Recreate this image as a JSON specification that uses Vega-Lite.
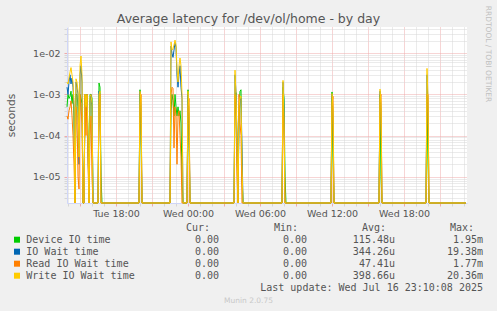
{
  "$schema": "https://vega.github.io/schema/vega-lite/v6.json",
  "width": 400,
  "height": 176,
  "autosize": {"type": "none"},
  "padding": {"left": 67, "top": 27, "right": 30, "bottom": 108},
  "background": "#f0f0f0",
  "config": {"view": {"fill": "#ffffff", "stroke": null}, "font": "DejaVu Sans"},
  "title": {"text": "Average latency for /dev/ol/home - by day", "fontSize": 12.5, "fontWeight": "normal", "color": "#555555", "anchor": "middle", "frame": "group", "dx": -18.5, "offset": -30, "baseline": "alphabetic"},
  "datasets": {
    "latency": [
      {"t": "2025-07-15T13:55", "Device IO time": 0.0005, "IO Wait time": 0.0015, "Read IO Wait time": 0.0003, "Write IO Wait time": 0.002},
      {"t": "2025-07-15T14:00", "Device IO time": 0.001, "IO Wait time": 0.001, "Read IO Wait time": 0.00025, "Write IO Wait time": 0.0018},
      {"t": "2025-07-15T14:05", "Device IO time": 0.0008, "IO Wait time": 0.002, "Read IO Wait time": 0.0004, "Write IO Wait time": 0.0025},
      {"t": "2025-07-15T14:10", "Device IO time": 0.0009, "IO Wait time": 0.003, "Read IO Wait time": 0.0005, "Write IO Wait time": 0.0035},
      {"t": "2025-07-15T14:15", "Device IO time": 0.0012, "IO Wait time": 0.0018, "Read IO Wait time": 0.0007, "Write IO Wait time": 0.0045},
      {"t": "2025-07-15T14:20", "Device IO time": 0.0006, "IO Wait time": 0.0025, "Read IO Wait time": 0.0003, "Write IO Wait time": 0.003},
      {"t": "2025-07-15T14:25", "Device IO time": 0.001, "IO Wait time": 0.0015, "Read IO Wait time": 0.0001, "Write IO Wait time": 0.002},
      {"t": "2025-07-15T14:30", "Device IO time": 0.0003, "IO Wait time": 0.0005, "Read IO Wait time": 0.00002, "Write IO Wait time": 0.0006},
      {"t": "2025-07-15T14:35", "Device IO time": 0, "IO Wait time": 0, "Read IO Wait time": 0, "Write IO Wait time": 0},
      {"t": "2025-07-15T14:40", "Device IO time": 0.001, "IO Wait time": 0.002, "Read IO Wait time": 0.0005, "Write IO Wait time": 0.0024},
      {"t": "2025-07-15T14:45", "Device IO time": 0.001, "IO Wait time": 0.0015, "Read IO Wait time": 0.0003, "Write IO Wait time": 0.002},
      {"t": "2025-07-15T14:50", "Device IO time": 0.0005, "IO Wait time": 0.001, "Read IO Wait time": 0.00001, "Write IO Wait time": 0.0012},
      {"t": "2025-07-15T14:55", "Device IO time": 0.00005, "IO Wait time": 0.00002, "Read IO Wait time": 0.000005, "Write IO Wait time": 0.00003},
      {"t": "2025-07-15T15:00", "Device IO time": 0.001, "IO Wait time": 0.003, "Read IO Wait time": 0.001, "Write IO Wait time": 0.005},
      {"t": "2025-07-15T15:05", "Device IO time": 0.0008, "IO Wait time": 0.005, "Read IO Wait time": 0.0005, "Write IO Wait time": 0.0086},
      {"t": "2025-07-15T15:10", "Device IO time": 0.0006, "IO Wait time": 0.002, "Read IO Wait time": 0.0002, "Write IO Wait time": 0.003},
      {"t": "2025-07-15T15:15", "Device IO time": 0, "IO Wait time": 0, "Read IO Wait time": 0, "Write IO Wait time": 0},
      {"t": "2025-07-15T15:20", "Device IO time": 0, "IO Wait time": 0, "Read IO Wait time": 0, "Write IO Wait time": 0},
      {"t": "2025-07-15T15:25", "Device IO time": 0.001, "IO Wait time": 0.0008, "Read IO Wait time": 0.001, "Write IO Wait time": 0.001},
      {"t": "2025-07-15T15:30", "Device IO time": 0.0005, "IO Wait time": 0.0003, "Read IO Wait time": 0.0001, "Write IO Wait time": 0.0005},
      {"t": "2025-07-15T15:35", "Device IO time": 0.001, "IO Wait time": 0.001, "Read IO Wait time": 0.001, "Write IO Wait time": 0.001},
      {"t": "2025-07-15T15:40", "Device IO time": 0.0001, "IO Wait time": 0.00005, "Read IO Wait time": 0.00002, "Write IO Wait time": 0.0001},
      {"t": "2025-07-15T15:45", "Device IO time": 0, "IO Wait time": 0, "Read IO Wait time": 0, "Write IO Wait time": 0},
      {"t": "2025-07-15T15:50", "Device IO time": 0.001, "IO Wait time": 0.0007, "Read IO Wait time": 0.0001, "Write IO Wait time": 0.0009},
      {"t": "2025-07-15T15:55", "Device IO time": 0.001, "IO Wait time": 0.001, "Read IO Wait time": 0.0003, "Write IO Wait time": 0.001},
      {"t": "2025-07-15T16:00", "Device IO time": 0.0008, "IO Wait time": 0.0005, "Read IO Wait time": 0.00001, "Write IO Wait time": 0.0006},
      {"t": "2025-07-15T16:05", "Device IO time": 0, "IO Wait time": 0, "Read IO Wait time": 0, "Write IO Wait time": 0},
      {"t": "2025-07-15T16:30", "Device IO time": 0, "IO Wait time": 0, "Read IO Wait time": 0, "Write IO Wait time": 0},
      {"t": "2025-07-15T16:35", "Device IO time": 0.0019, "IO Wait time": 0.0012, "Read IO Wait time": 0.0005, "Write IO Wait time": 0.001},
      {"t": "2025-07-15T16:40", "Device IO time": 0.0015, "IO Wait time": 0.001, "Read IO Wait time": 0.001, "Write IO Wait time": 0.0012},
      {"t": "2025-07-15T16:45", "Device IO time": 0.00001, "IO Wait time": 0, "Read IO Wait time": 0, "Write IO Wait time": 0},
      {"t": "2025-07-15T16:50", "Device IO time": 0, "IO Wait time": 0, "Read IO Wait time": 0, "Write IO Wait time": 0},
      {"t": "2025-07-15T19:55", "Device IO time": 0, "IO Wait time": 0, "Read IO Wait time": 0, "Write IO Wait time": 0},
      {"t": "2025-07-15T20:00", "Device IO time": 0.0013, "IO Wait time": 0.0012, "Read IO Wait time": 0.0005, "Write IO Wait time": 0.0012},
      {"t": "2025-07-15T20:05", "Device IO time": 0.0001, "IO Wait time": 0.0005, "Read IO Wait time": 0.001, "Write IO Wait time": 0.0008},
      {"t": "2025-07-15T20:10", "Device IO time": 0, "IO Wait time": 0, "Read IO Wait time": 0, "Write IO Wait time": 0},
      {"t": "2025-07-15T22:30", "Device IO time": 0, "IO Wait time": 0, "Read IO Wait time": 0, "Write IO Wait time": 0},
      {"t": "2025-07-15T22:35", "Device IO time": 0.0004, "IO Wait time": 0.015, "Read IO Wait time": 0.001, "Write IO Wait time": 0.019},
      {"t": "2025-07-15T22:40", "Device IO time": 0.001, "IO Wait time": 0.01, "Read IO Wait time": 0.0015, "Write IO Wait time": 0.012},
      {"t": "2025-07-15T22:45", "Device IO time": 0.0007, "IO Wait time": 0.008, "Read IO Wait time": 0.0014, "Write IO Wait time": 0.013},
      {"t": "2025-07-15T22:50", "Device IO time": 0.0003, "IO Wait time": 0.012, "Read IO Wait time": 0.00005, "Write IO Wait time": 0.016},
      {"t": "2025-07-15T22:55", "Device IO time": 0.001, "IO Wait time": 0.018, "Read IO Wait time": 0.0005, "Write IO Wait time": 0.021},
      {"t": "2025-07-15T23:00", "Device IO time": 0.0005, "IO Wait time": 0.014, "Read IO Wait time": 0.0003, "Write IO Wait time": 0.016},
      {"t": "2025-07-15T23:05", "Device IO time": 0.0003, "IO Wait time": 0.003, "Read IO Wait time": 0.00002, "Write IO Wait time": 0.004},
      {"t": "2025-07-15T23:10", "Device IO time": 0.0005, "IO Wait time": 0.0015, "Read IO Wait time": 0.0003, "Write IO Wait time": 0.002},
      {"t": "2025-07-15T23:15", "Device IO time": 0.0003, "IO Wait time": 0.003, "Read IO Wait time": 0.0004, "Write IO Wait time": 0.005},
      {"t": "2025-07-15T23:20", "Device IO time": 0.0004, "IO Wait time": 0.005, "Read IO Wait time": 0.0001, "Write IO Wait time": 0.0077},
      {"t": "2025-07-15T23:25", "Device IO time": 0.0002, "IO Wait time": 0.0015, "Read IO Wait time": 0.00003, "Write IO Wait time": 0.005},
      {"t": "2025-07-15T23:30", "Device IO time": 0.00001, "IO Wait time": 0.0008, "Read IO Wait time": 0, "Write IO Wait time": 0.001},
      {"t": "2025-07-15T23:35", "Device IO time": 0, "IO Wait time": 0, "Read IO Wait time": 0, "Write IO Wait time": 0},
      {"t": "2025-07-15T23:55", "Device IO time": 0, "IO Wait time": 0, "Read IO Wait time": 0, "Write IO Wait time": 0},
      {"t": "2025-07-16T00:00", "Device IO time": 0.0013, "IO Wait time": 0.001, "Read IO Wait time": 0.0005, "Write IO Wait time": 0.0012},
      {"t": "2025-07-16T00:05", "Device IO time": 0.0001, "IO Wait time": 0.0003, "Read IO Wait time": 0.0008, "Write IO Wait time": 0.0005},
      {"t": "2025-07-16T00:10", "Device IO time": 0, "IO Wait time": 0, "Read IO Wait time": 0, "Write IO Wait time": 0},
      {"t": "2025-07-16T03:50", "Device IO time": 0, "IO Wait time": 0, "Read IO Wait time": 0, "Write IO Wait time": 0},
      {"t": "2025-07-16T03:55", "Device IO time": 0.0008, "IO Wait time": 0.003, "Read IO Wait time": 0.001, "Write IO Wait time": 0.0039},
      {"t": "2025-07-16T04:00", "Device IO time": 0.0011, "IO Wait time": 0.001, "Read IO Wait time": 0.0005, "Write IO Wait time": 0.001},
      {"t": "2025-07-16T04:05", "Device IO time": 0.00005, "IO Wait time": 0.0001, "Read IO Wait time": 0.00001, "Write IO Wait time": 0.00008},
      {"t": "2025-07-16T04:10", "Device IO time": 0, "IO Wait time": 0, "Read IO Wait time": 0, "Write IO Wait time": 0},
      {"t": "2025-07-16T04:15", "Device IO time": 0.0005, "IO Wait time": 0.0003, "Read IO Wait time": 0.001, "Write IO Wait time": 0.0005},
      {"t": "2025-07-16T04:20", "Device IO time": 0.0012, "IO Wait time": 0.0007, "Read IO Wait time": 0.0002, "Write IO Wait time": 0.00088},
      {"t": "2025-07-16T04:25", "Device IO time": 0.0013, "IO Wait time": 0.0008, "Read IO Wait time": 0.0001, "Write IO Wait time": 0.0009},
      {"t": "2025-07-16T04:30", "Device IO time": 0.00001, "IO Wait time": 0.00005, "Read IO Wait time": 0, "Write IO Wait time": 0.00002},
      {"t": "2025-07-16T04:35", "Device IO time": 0, "IO Wait time": 0, "Read IO Wait time": 0, "Write IO Wait time": 0},
      {"t": "2025-07-16T07:50", "Device IO time": 0, "IO Wait time": 0, "Read IO Wait time": 0, "Write IO Wait time": 0},
      {"t": "2025-07-16T07:55", "Device IO time": 0.0015, "IO Wait time": 0.002, "Read IO Wait time": 0.001, "Write IO Wait time": 0.0022},
      {"t": "2025-07-16T08:00", "Device IO time": 0.0008, "IO Wait time": 0.0005, "Read IO Wait time": 0.0001, "Write IO Wait time": 0.0003},
      {"t": "2025-07-16T08:05", "Device IO time": 0.00001, "IO Wait time": 0, "Read IO Wait time": 0, "Write IO Wait time": 0},
      {"t": "2025-07-16T08:10", "Device IO time": 0, "IO Wait time": 0, "Read IO Wait time": 0, "Write IO Wait time": 0},
      {"t": "2025-07-16T11:55", "Device IO time": 0, "IO Wait time": 0, "Read IO Wait time": 0, "Write IO Wait time": 0},
      {"t": "2025-07-16T12:00", "Device IO time": 0.00115, "IO Wait time": 0.001, "Read IO Wait time": 0.0006, "Write IO Wait time": 0.00105},
      {"t": "2025-07-16T12:05", "Device IO time": 0.00003, "IO Wait time": 0.0003, "Read IO Wait time": 0.0009, "Write IO Wait time": 0.0005},
      {"t": "2025-07-16T12:10", "Device IO time": 0, "IO Wait time": 0, "Read IO Wait time": 0, "Write IO Wait time": 0},
      {"t": "2025-07-16T15:55", "Device IO time": 0, "IO Wait time": 0, "Read IO Wait time": 0, "Write IO Wait time": 0},
      {"t": "2025-07-16T16:00", "Device IO time": 0.001, "IO Wait time": 0.0012, "Read IO Wait time": 0.0008, "Write IO Wait time": 0.00135},
      {"t": "2025-07-16T16:05", "Device IO time": 0.00001, "IO Wait time": 0.0004, "Read IO Wait time": 0.001, "Write IO Wait time": 0.0006},
      {"t": "2025-07-16T16:10", "Device IO time": 0, "IO Wait time": 0, "Read IO Wait time": 0, "Write IO Wait time": 0},
      {"t": "2025-07-16T19:50", "Device IO time": 0, "IO Wait time": 0, "Read IO Wait time": 0, "Write IO Wait time": 0},
      {"t": "2025-07-16T19:55", "Device IO time": 0.001, "IO Wait time": 0.003, "Read IO Wait time": 0.001, "Write IO Wait time": 0.0043},
      {"t": "2025-07-16T20:00", "Device IO time": 0.00002, "IO Wait time": 0.0005, "Read IO Wait time": 0.001, "Write IO Wait time": 0.0008},
      {"t": "2025-07-16T20:05", "Device IO time": 0, "IO Wait time": 0, "Read IO Wait time": 0, "Write IO Wait time": 0},
      {"t": "2025-07-16T23:10", "Device IO time": 0, "IO Wait time": 0, "Read IO Wait time": 0, "Write IO Wait time": 0}
    ],
    "stats": [
      {"series": "Device IO time", "Cur": "0.00", "Min": "0.00", "Avg": "115.48u", "Max": "1.95m"},
      {"series": "IO Wait time", "Cur": "0.00", "Min": "0.00", "Avg": "344.26u", "Max": "19.38m"},
      {"series": "Read IO Wait time", "Cur": "0.00", "Min": "0.00", "Avg": "47.41u", "Max": "1.77m"},
      {"series": "Write IO Wait time", "Cur": "0.00", "Min": "0.00", "Avg": "398.66u", "Max": "20.36m"}
    ],
    "headers": [
      {"stat": "Cur", "row": "header", "label": "Cur:"},
      {"stat": "Min", "row": "header", "label": "Min:"},
      {"stat": "Avg", "row": "header", "label": "Avg:"},
      {"stat": "Max", "row": "header", "label": "Max:"}
    ],
    "footer": [
      {"stat": "Max", "row": "footer", "label": "Last update: Wed Jul 16 23:10:08 2025"}
    ]
  },
  "layer": [
    {
      "data": {"name": "latency"},
      "transform": [{"fold": ["Device IO time", "IO Wait time", "Read IO Wait time", "Write IO Wait time"], "as": ["series", "value"]}],
      "mark": {"type": "line", "strokeWidth": 1},
      "encoding": {
        "x": {
          "field": "t", "type": "temporal",
          "scale": {"domain": [{"year": 2025, "month": 7, "date": 15, "hours": 13, "minutes": 55}, {"year": 2025, "month": 7, "date": 16, "hours": 23, "minutes": 15}]},
          "axis": {
            "values": [
              {"year": 2025, "month": 7, "date": 15, "hours": 14}, {"year": 2025, "month": 7, "date": 15, "hours": 15}, {"year": 2025, "month": 7, "date": 15, "hours": 16}, {"year": 2025, "month": 7, "date": 15, "hours": 17}, {"year": 2025, "month": 7, "date": 15, "hours": 18}, {"year": 2025, "month": 7, "date": 15, "hours": 19}, {"year": 2025, "month": 7, "date": 15, "hours": 20}, {"year": 2025, "month": 7, "date": 15, "hours": 21}, {"year": 2025, "month": 7, "date": 15, "hours": 22}, {"year": 2025, "month": 7, "date": 15, "hours": 23},
              {"year": 2025, "month": 7, "date": 16, "hours": 0}, {"year": 2025, "month": 7, "date": 16, "hours": 1}, {"year": 2025, "month": 7, "date": 16, "hours": 2}, {"year": 2025, "month": 7, "date": 16, "hours": 3}, {"year": 2025, "month": 7, "date": 16, "hours": 4}, {"year": 2025, "month": 7, "date": 16, "hours": 5}, {"year": 2025, "month": 7, "date": 16, "hours": 6}, {"year": 2025, "month": 7, "date": 16, "hours": 7}, {"year": 2025, "month": 7, "date": 16, "hours": 8}, {"year": 2025, "month": 7, "date": 16, "hours": 9}, {"year": 2025, "month": 7, "date": 16, "hours": 10}, {"year": 2025, "month": 7, "date": 16, "hours": 11},
              {"year": 2025, "month": 7, "date": 16, "hours": 12}, {"year": 2025, "month": 7, "date": 16, "hours": 13}, {"year": 2025, "month": 7, "date": 16, "hours": 14}, {"year": 2025, "month": 7, "date": 16, "hours": 15}, {"year": 2025, "month": 7, "date": 16, "hours": 16}, {"year": 2025, "month": 7, "date": 16, "hours": 17}, {"year": 2025, "month": 7, "date": 16, "hours": 18}, {"year": 2025, "month": 7, "date": 16, "hours": 19}, {"year": 2025, "month": 7, "date": 16, "hours": 20}, {"year": 2025, "month": 7, "date": 16, "hours": 21}, {"year": 2025, "month": 7, "date": 16, "hours": 22}, {"year": 2025, "month": 7, "date": 16, "hours": 23}
            ],
            "labelExpr": "hours(datum.value) % 6 == 0 ? timeFormat(datum.value, '%a %H:%M') : ''",
            "labelOverlap": false, "labelFlush": false,
            "labelFont": "DejaVu Sans", "labelFontSize": 9.5, "labelColor": "#555555", "labelPadding": 2,
            "tickSize": 3,
            "tickColor": {"condition": {"test": "hours(datum.value) % 3 == 0", "value": "#eeaaaa"}, "value": "#d6d6d6"},
            "grid": true,
            "gridColor": {"condition": {"test": "hours(datum.value) % 3 == 0", "value": "#eeaaaa"}, "value": "#d6d6d6"},
            "gridDash": [1, 1], "gridOpacity": 1,
            "domainColor": "#cfd6f8",
            "title": "Munin 2.0.75", "titleX": 181, "titleY": 97, "titleFontSize": 7.5, "titleColor": "#c8c8c8", "titleFontWeight": "normal", "titleBaseline": "middle", "titleAlign": "center"
          }
        },
        "y": {
          "field": "value", "type": "quantitative",
          "scale": {"type": "log", "domain": [0.000002286, 0.04375], "clamp": true},
          "axis": {
            "values": [0.000003, 0.000004, 0.000005, 0.000006, 0.000007, 0.000008, 0.000009, 0.00001, 0.00002, 0.00003, 0.00004, 0.00005, 0.00006, 0.00007, 0.00008, 0.00009, 0.0001, 0.0002, 0.0003, 0.0004, 0.0005, 0.0006, 0.0007, 0.0008, 0.0009, 0.001, 0.002, 0.003, 0.004, 0.005, 0.006, 0.007, 0.008, 0.009, 0.01, 0.02, 0.03, 0.04],
            "labelExpr": "abs(log(datum.value)/LN10 - round(log(datum.value)/LN10)) < 0.01 ? '1e-0' + (-round(log(datum.value)/LN10)) : ''",
            "labelOverlap": false, "labelFlush": false,
            "labelFont": "DejaVu Sans", "labelFontSize": 9.5, "labelColor": "#555555", "labelPadding": 4,
            "tickSize": 3,
            "tickColor": {"condition": {"test": "abs(log(datum.value)/LN10 - round(log(datum.value)/LN10)) < 0.01", "value": "#eeaaaa"}, "value": "#d6d6d6"},
            "grid": true,
            "gridColor": {"condition": {"test": "abs(log(datum.value)/LN10 - round(log(datum.value)/LN10)) < 0.01", "value": "#eeaaaa"}, "value": "#d6d6d6"},
            "gridDash": [1, 1], "gridOpacity": 1,
            "domainColor": "#cfd6f8",
            "title": "seconds", "titleX": -56, "titleY": 88, "titleFontSize": 10.7, "titleColor": "#555555", "titleFontWeight": "normal", "titleBaseline": "middle", "titleAlign": "center"
          }
        },
        "color": {
          "field": "series", "type": "nominal",
          "scale": {"domain": ["Device IO time", "IO Wait time", "Read IO Wait time", "Write IO Wait time"], "range": ["#00cc00", "#0066b3", "#ff8000", "#ffcc00"]},
          "legend": null
        }
      }
    },
    {
      "layer": [
        {
          "layer": [
            {
              "data": {"name": "headers"},
              "mark": {"type": "text", "align": "right", "baseline": "middle", "font": "DejaVu Sans Mono", "fontSize": 10, "color": "#555555", "dx": -9},
              "encoding": {
                "x": {"field": "stat", "type": "nominal", "axis": null},
                "y": {"field": "row", "type": "nominal"},
                "text": {"field": "label"}
              }
            },
            {
              "data": {"name": "stats"},
              "transform": [{"fold": ["Cur", "Min", "Avg", "Max"], "as": ["stat", "text"]}],
              "mark": {"type": "text", "align": "right", "baseline": "middle", "font": "DejaVu Sans Mono", "fontSize": 10, "color": "#555555"},
              "encoding": {
                "x": {"field": "stat", "type": "nominal", "scale": {"type": "point", "domain": ["Cur", "Min", "Avg", "Max"], "range": [152, 416], "padding": 0}, "axis": null},
                "y": {
                  "field": "series", "type": "nominal",
                  "scale": {"type": "point", "domain": ["header", "Device IO time", "IO Wait time", "Read IO Wait time", "Write IO Wait time", "footer"], "range": [200.7, 260.7], "padding": 0},
                  "axis": {"orient": "right", "labels": false, "ticks": false, "domain": false, "grid": false, "title": "RRDTOOL / TOBI OETIKER", "titleAngle": 90, "titleX": 20.5, "titleY": 26.5, "titleAlign": "center", "titleBaseline": "middle", "titleFontSize": 7.5, "titleColor": "#c0c0c0", "titleFontWeight": "normal"}
                },
                "text": {"field": "text"}
              }
            },
            {
              "data": {"name": "footer"},
              "mark": {"type": "text", "align": "right", "baseline": "middle", "font": "DejaVu Sans Mono", "fontSize": 10, "color": "#555555"},
              "encoding": {
                "x": {"field": "stat", "type": "nominal", "axis": null},
                "y": {"field": "row", "type": "nominal"},
                "text": {"field": "label"}
              }
            }
          ]
        },
        {
          "data": {"name": "stats"},
          "layer": [
            {
              "mark": {"type": "square", "size": 36, "opacity": 1, "filled": true},
              "encoding": {
                "x": {"datum": "swatch", "type": "nominal", "scale": {"type": "point", "domain": ["swatch", "label"], "range": [-50, -40.7], "padding": 0}, "axis": null},
                "y": {"field": "series", "type": "nominal"},
                "color": {"field": "series", "type": "nominal", "legend": null}
              }
            },
            {
              "mark": {"type": "text", "align": "left", "baseline": "middle", "font": "DejaVu Sans Mono", "fontSize": 10, "color": "#555555"},
              "encoding": {
                "x": {"datum": "label", "type": "nominal", "axis": null},
                "y": {"field": "series", "type": "nominal"},
                "text": {"field": "series"}
              }
            }
          ]
        }
      ],
      "resolve": {"scale": {"x": "independent"}}
    }
  ],
  "resolve": {"scale": {"x": "independent", "y": "independent"}}
}
